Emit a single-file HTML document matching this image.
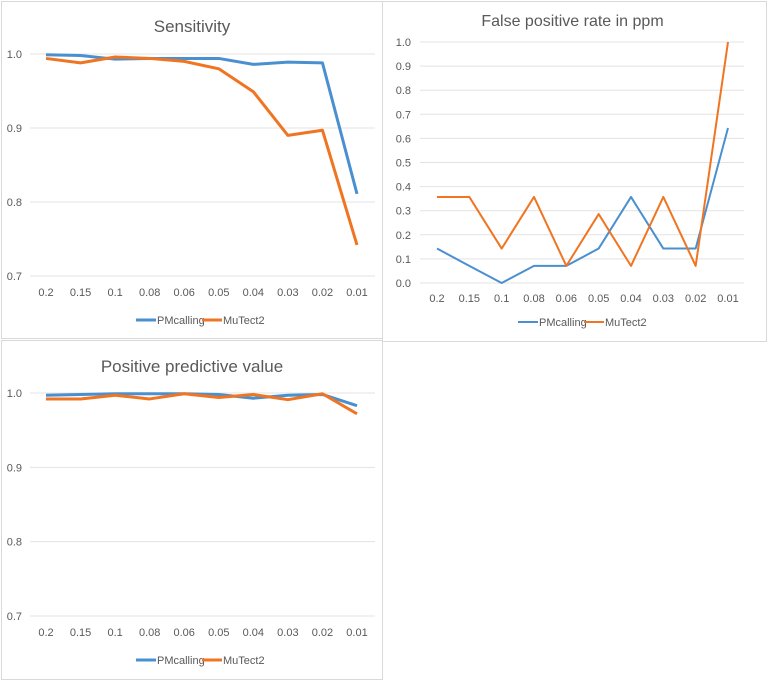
<!DOCTYPE html>
<html><head><meta charset="utf-8"><style>
body{margin:0;background:#fff;width:768px;height:682px;overflow:hidden;font-family:"Liberation Sans",sans-serif}
svg{display:block}
text{fill:#595959;font-family:"Liberation Sans",sans-serif}
</style></head><body>
<svg id="root" width="768" height="682"></svg>
<script>
const categories=["0.2","0.15","0.1","0.08","0.06","0.05","0.04","0.03","0.02","0.01"];
const sensPM=[0.999,0.998,0.993,0.994,0.994,0.994,0.986,0.989,0.988,0.811];
const sensMu=[0.994,0.988,0.996,0.994,0.990,0.980,0.949,0.890,0.897,0.742];
const fprPM=[0.143,0.071,0,0.071,0.071,0.143,0.357,0.143,0.143,0.643];
const fprMu=[0.357,0.357,0.143,0.357,0.071,0.286,0.071,0.357,0.071,1.0];
const ppvPM=[0.997,0.998,0.999,0.999,0.999,0.998,0.993,0.997,0.998,0.983];
const ppvMu=[0.992,0.992,0.997,0.992,0.999,0.994,0.998,0.991,0.999,0.972];
const ticks1=["0.7","0.8","0.9","1.0"];
const ticks2=["0.0","0.1","0.2","0.3","0.4","0.5","0.6","0.7","0.8","0.9","1.0"];
const seriesNames=["PMcalling","MuTect2"];
const NS="http://www.w3.org/2000/svg";
const root=document.getElementById('root');
function el(tag,attrs,parent){const e=document.createElementNS(NS,tag);for(const k in attrs)e.setAttribute(k,attrs[k]);(parent||root).appendChild(e);return e;}
function chart(o){
  const g=el('g',{});
  
  
  const bg=el('rect',{x:o.bx,y:o.by,width:o.bw,height:o.bh,fill:'#fff',stroke:'#d9d9d9'},g);
  
  
  const t=el('text',{x:o.bx+o.bw/2+o.tdx,y:o.ty,'text-anchor':'middle','font-size':o.tfs},g);
  t.textContent=o.title;
  
  
  const ymin=parseFloat(o.ticks[0]),ymax=parseFloat(o.ticks[o.ticks.length-1]);
  const ys=v=>o.y0+(v-ymin)/(ymax-ymin)*(o.y1-o.y0);
  const xs=i=>o.x0+i*(o.x1-o.x0)/(categories.length-1);
  o.ticks.forEach(tk=>{
    const v=parseFloat(tk);
    const l=el('line',{x1:o.gx0,x2:o.gx1,y1:ys(v),y2:ys(v),stroke:'#e3e3e3','stroke-width':1},g);
    
    
    const tx=el('text',{x:o.lx,y:ys(v)+4,'text-anchor':'end','font-size':11},g);
    tx.textContent=tk;
    
    
  });
  categories.forEach((c,i)=>{
    const tx=el('text',{x:xs(i),y:o.xly,'text-anchor':'middle','font-size':11},g);
    tx.textContent=c;
    
    
  });
  const colors=['#4a90d0','#f07522'];
  [o.a,o.b].forEach((arr,si)=>{
    const p=el('polyline',{points:arr.map((v,i)=>xs(i)+','+ys(v)).join(' '),fill:'none',stroke:colors[si],'stroke-width':o.sw,'stroke-linejoin':'round'},g);
    
    
  });
  let lx=o.legx;
  seriesNames.forEach((n,si)=>{
    const l=el('line',{x1:lx,x2:lx+20,y1:o.legy,y2:o.legy,stroke:colors[si],'stroke-width':o.sw},g);
    
    
    const tx=el('text',{x:lx+21,y:o.legy+4,'font-size':11},g);
    tx.textContent=n;
    
    
    lx+=66;
  });
}
chart({name:'sensitivity-chart',title:'Sensitivity',bx:1.5,by:1.5,bw:381,bh:337,ty:32,tfs:17,tdx:0,
  ticks:ticks1,y0:276,y1:54,x0:46,x1:357,gx0:30,gx1:375,lx:22,xly:296,a:sensPM,b:sensMu,sw:3,legx:136,legy:320});
chart({name:'false-positive-rate-chart',title:'False positive rate in ppm',bx:382.5,by:1.5,bw:384,bh:340,ty:26,tfs:16,tdx:-2,
  ticks:ticks2,y0:283,y1:42,x0:437,x1:728,gx0:420,gx1:744,lx:411,xly:302,a:fprPM,b:fprMu,sw:2,legx:518,legy:322});
chart({name:'positive-predictive-value-chart',title:'Positive predictive value',bx:1.5,by:340.5,bw:381,bh:339,ty:372,tfs:17,tdx:0,
  ticks:ticks1,y0:616,y1:393,x0:46,x1:357,gx0:30,gx1:375,lx:22,xly:636,a:ppvPM,b:ppvMu,sw:3,legx:136,legy:660});
</script>
</body></html>
